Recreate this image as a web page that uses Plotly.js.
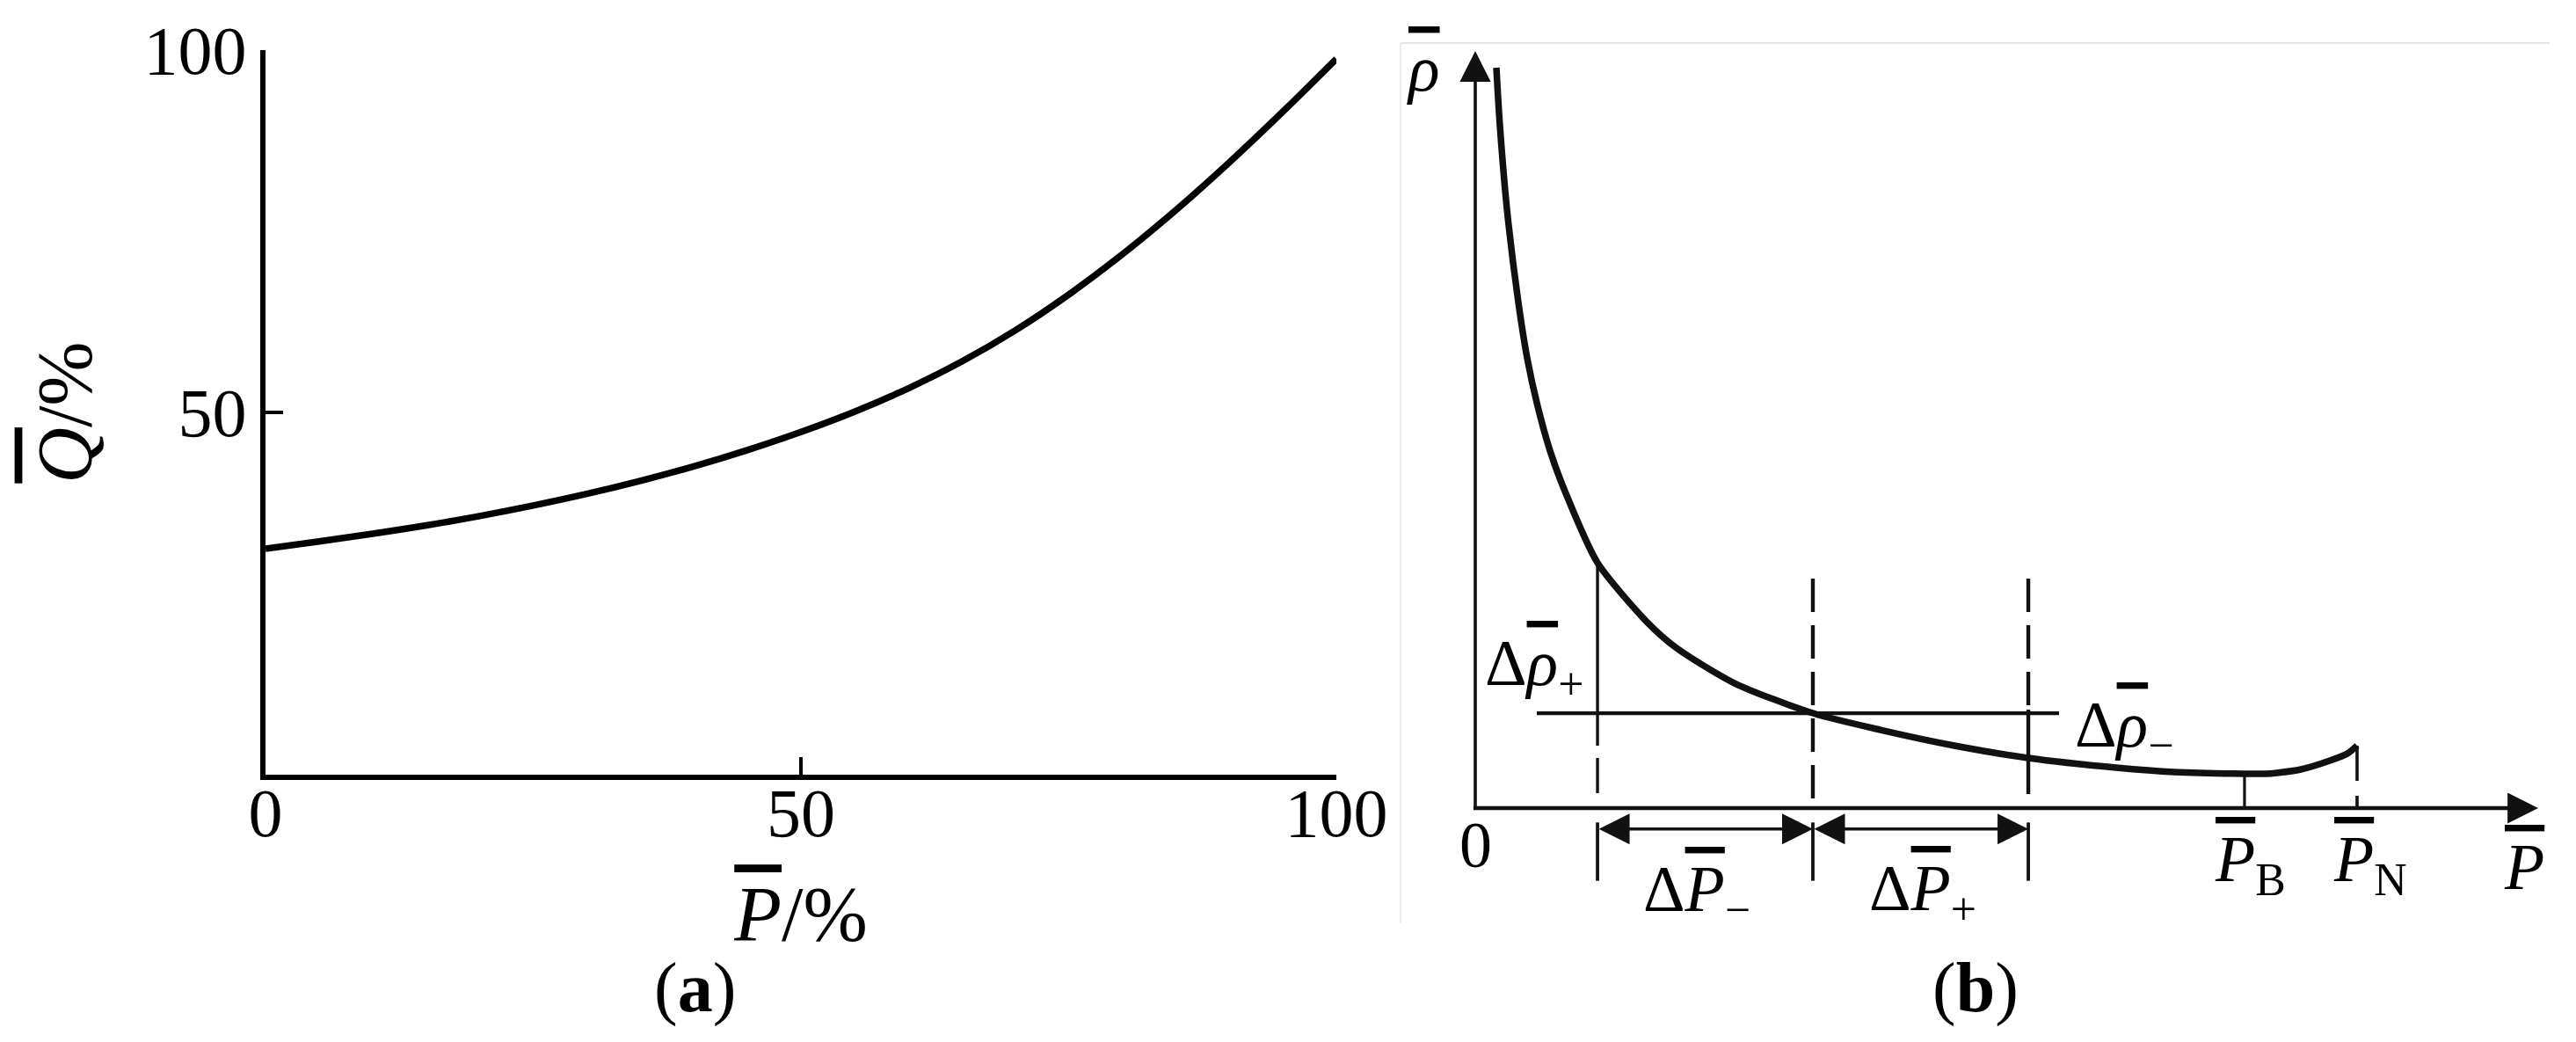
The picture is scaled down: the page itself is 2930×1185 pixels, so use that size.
<!DOCTYPE html>
<html>
<head>
<meta charset="utf-8">
<script src="https://cdn.plot.ly/plotly-3.0.1.min.js"></script>
<style>
html,body{margin:0;padding:0;background:#fff;}
#chart{width:2930px;height:1185px;}
</style>
</head>
<body>
<div id="chart"></div>
<script>
// ---------- Panel (a): Q̄ versus P̄ (percent) ----------
const loadP = [0, 5, 10, 15, 20, 25, 30, 35, 40, 45, 50, 55, 60, 65, 70, 75, 80, 85, 90, 95, 100];
const flowQ = [31.2, 32.2, 33.25, 34.4, 35.7, 37.15, 38.75, 40.55, 42.55, 44.8, 47.3, 50.1, 53.3, 57.0, 61.3, 66.25, 71.8, 77.9, 84.5, 91.5, 98.8];
const aXTickVals = [0, 50, 100];
const aXTickText = ['0', '50', '100'];
const aYTickVals = [50, 100];
const aYTickText = ['50', '100'];

// ---------- Panel (b): ρ̄ versus P̄ (schematic units) ----------
const bP   = [1.985, 2.30, 3.00, 4.01, 4.88, 5.83, 7.07, 8.48, 11.5, 16.13, 18.94, 24.40, 31.76, 38.21, 45.08, 52.03, 60.30, 65.76, 72.37, 74.36, 75.4, 77.67, 80.40, 82.05, 82.96];
const bRho = [97.79, 90.48, 78.86, 67.25, 59.47, 53.31, 47.04, 41.70, 32.40, 24.62, 21.14, 16.49, 12.54, 10.3, 8.25, 6.62, 5.34, 4.76, 4.53, 4.53, 4.65, 5.11, 6.27, 7.20, 8.25];

// marked operating points on the P̄ axis
const pMinus = 11.5;   // P̄ − ΔP̄−
const pZero  = 31.76;  // operating point
const pPlus  = 52.03;  // P̄ + ΔP̄+
const pB     = 72.37;  // P̄_B
const pN     = 82.96;  // P̄_N
const rhoZero = 12.54; // ρ̄ at operating point

// extents of construction lines
const pMinusSolidY = [32.4, 8.25];
const pMinusDashY  = [6.62, 1.97];
const pZeroDashY   = [30.3, 1.05];
const pPlusDashY   = [30.3, 13.0];
const pPlusSolidY  = [13.0, 1.86];
const pBLineY      = [4.53, 0];
const pNLineY      = [8.25, 0];
const rhoLineX     = [5.79, 54.92];
const bracketY     = [-1.9, -9.6];
const dimArrowY    = -2.75;
const axisMaxP     = 100;
const axisMaxRho   = 100;

const FONT = 'Liberation Serif, Times New Roman, serif';
const OL = s => '<span style="text-decoration:overline">' + s + '</span>';
const INK = '#111111';

function seg(x, y, width, dash) {
  return {x: x, y: y, xaxis: 'x2', yaxis: 'y2', mode: 'lines', hoverinfo: 'skip', showlegend: false,
          line: {color: INK, width: width, dash: dash || 'solid'}};
}

const traces = [
  {x: loadP, y: flowQ, xaxis: 'x', yaxis: 'y', mode: 'lines', showlegend: false,
   line: {color: '#000', width: 7.5, shape: 'spline', smoothing: 1}},
  {x: bP, y: bRho, xaxis: 'x2', yaxis: 'y2', mode: 'lines', showlegend: false,
   line: {color: INK, width: 7.5, shape: 'spline', smoothing: 0.7}},
  seg([pMinus, pMinus], pMinusSolidY, 3.4),
  seg([pMinus, pMinus], pMinusDashY, 3.4),
  seg([pZero, pZero], pZeroDashY, 4.4, '38px,15px'),
  seg([pPlus, pPlus], pPlusDashY, 4.4, '38px,15px'),
  seg([pPlus, pPlus], pPlusSolidY, 4.4),
  seg([pB, pB], pBLineY, 3.2),
  seg([pN, pN], pNLineY, 3.6, '40px,17px'),
  seg(rhoLineX, [rhoZero, rhoZero], 4.2),
  seg([pMinus, pMinus], bracketY, 3.8),
  seg([pZero, pZero], bracketY, 3.8),
  seg([pPlus, pPlus], bracketY, 3.8)
];

function arrow(x, y, ax, ay, w, size, both) {
  const a = {xref: 'x2', yref: 'y2', axref: 'x2', ayref: 'y2', x: x, y: y, ax: ax, ay: ay,
             text: '', showarrow: true, arrowhead: 2, arrowsize: size, arrowwidth: w,
             arrowcolor: INK, standoff: 0, startstandoff: 0};
  if (both) { a.arrowside = 'end+start'; a.startarrowhead = 2; a.startarrowsize = size; }
  return a;
}
function label(text, x, y, xanchor, size) {
  return {xref: 'x2', yref: 'y2', x: x, y: y, text: text, showarrow: false,
          xanchor: xanchor || 'center', yanchor: 'middle',
          font: {family: FONT, size: size || 74, color: '#000'}};
}

const annotations = [
  arrow(0, axisMaxRho, 0, -0.25, 3.6, 1.95, false),
  arrow(axisMaxP, 0, -0.3, 0, 4.5, 1.55, false),
  arrow(pZero, dimArrowY, pMinus, dimArrowY, 3.5, 2.0, true),
  arrow(pPlus, dimArrowY, pZero, dimArrowY, 3.5, 2.0, true),
  label(OL('<i>ρ</i>'), -4.9, 97.7),
  label('0', 0, -4.85),
  label('Δ' + OL('<i>ρ</i>') + '<sub>+</sub>', 0.74, 18.5, 'left'),
  label('Δ' + OL('<i>ρ</i>') + '<sub>−</sub>', 56.24, 10.45, 'left'),
  label('Δ' + OL('<i>P</i>') + '<sub>−</sub>', 20.84, -11.27),
  label('Δ' + OL('<i>P</i>') + '<sub>+</sub>', 42.1, -11.15),
  label(OL('<i>P</i>') + '<sub>B</sub>', 72.87, -7.43),
  label(OL('<i>P</i>') + '<sub>N</sub>', 84.2, -7.43),
  label(OL('<i>P</i>'), 98.68, -7.78),
  {xref: 'paper', yref: 'paper', x: 790 / 2930, y: 0.0523, text: '(<b>a</b>)', showarrow: false,
   xanchor: 'center', yanchor: 'middle', font: {family: FONT, size: 80, color: '#000'}},
  {xref: 'paper', yref: 'paper', x: 2247 / 2930, y: 0.0515, text: '(<b>b</b>)', showarrow: false,
   xanchor: 'center', yanchor: 'middle', font: {family: FONT, size: 80, color: '#000'}}
];

const layout = {
  width: 2930, height: 1185,
  margin: {l: 0, r: 0, t: 0, b: 0},
  paper_bgcolor: '#fff', plot_bgcolor: 'rgba(0,0,0,0)',
  showlegend: false,
  font: {family: FONT, color: '#000'},
  xaxis: {
    domain: [302 / 2930, 1520 / 2930], range: [0, 100], anchor: 'y',
    showline: true, linewidth: 6, linecolor: '#000', mirror: false,
    ticks: 'inside', ticklen: 20, tickwidth: 4, tickcolor: '#000',
    tickmode: 'array', tickvals: aXTickVals, ticktext: aXTickText,
    tickfont: {family: FONT, size: 78, color: '#000'}, ticklabelstandoff: -30,
    showgrid: false, zeroline: false, automargin: false,
    title: {text: OL('<i>P</i>') + '/%', font: {family: FONT, size: 88, color: '#000'}, standoff: 43}
  },
  yaxis: {
    domain: [1 - 881 / 1185, 1 - 57 / 1185], range: [0, 100], anchor: 'x',
    showline: true, linewidth: 6, linecolor: '#000', mirror: false,
    ticks: 'inside', ticklen: 20, tickwidth: 4, tickcolor: '#000',
    tickmode: 'array', tickvals: aYTickVals, ticktext: aYTickText,
    tickfont: {family: FONT, size: 78, color: '#000'},
    showgrid: false, zeroline: false, automargin: false,
    title: {text: OL('<i>Q</i>') + '/%', font: {family: FONT, size: 88, color: '#000'}, standoff: 33}
  },
  xaxis2: {domain: [1590 / 2930, 2887 / 2930], range: [-7.279, 100], anchor: 'y2', visible: false, fixedrange: true},
  yaxis2: {domain: [0, 1 - 58 / 1185], range: [-30.894, 100], anchor: 'x2', visible: false, fixedrange: true},
  shapes: [
    {type: 'line', xref: 'paper', yref: 'paper', x0: 1593 / 2930, x1: 2900 / 2930, y0: 1 - 49 / 1185, y1: 1 - 49 / 1185,
     line: {color: '#e6e6e6', width: 2}},
    {type: 'line', xref: 'paper', yref: 'paper', x0: 1593 / 2930, x1: 1593 / 2930, y0: 1 - 49 / 1185, y1: 1 - 1050 / 1185,
     line: {color: '#ececec', width: 2}}
  ],
  annotations: annotations
};

Plotly.newPlot('chart', traces, layout, {displayModeBar: false, staticPlot: true});
</script>
</body>
</html>
